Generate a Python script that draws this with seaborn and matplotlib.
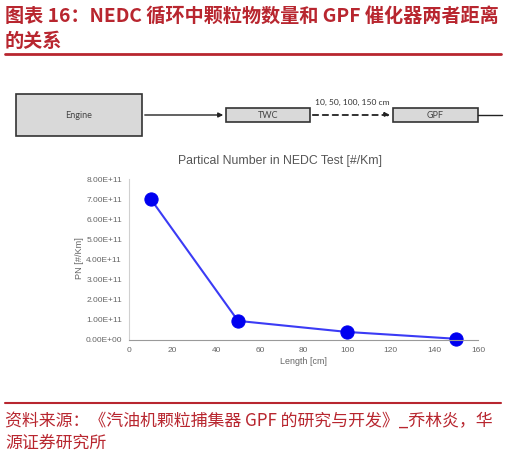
import matplotlib
matplotlib.use("Agg")
import matplotlib.pyplot as plt
import matplotlib.ticker as mticker
from matplotlib.patches import Rectangle
import pandas as pd
import seaborn as sns

# data
length_cm = [10, 50, 100, 150]
pn_per_km = [7.0e11, 0.95e11, 0.4e11, 0.06e11]
x_ticks = [0, 20, 40, 60, 80, 100, 120, 140, 160]
y_ticks = [0, 1e11, 2e11, 3e11, 4e11, 5e11, 6e11, 7e11, 8e11]
distance_label = "10, 50, 100, 150 cm"

title_lines = ["图表 16：NEDC 循环中颗粒物数量和 GPF 催化器两者距离", "的关系"]
source_lines = ["资料来源：《汽油机颗粒捕集器 GPF 的研究与开发》_乔林炎，华", "源证券研究所"]

RED = "#B8262F"
W, H = 506, 459

sns.set_theme(style="white")
plt.rcParams["font.family"] = ["Noto Sans CJK SC", "DejaVu Sans"]

fig = plt.figure(figsize=(W / 100, H / 100), dpi=100)

# overlay in pixel coords for header, diagram and footer
bg = fig.add_axes([0, 0, 1, 1])
bg.set_xlim(0, W)
bg.set_ylim(H, 0)
bg.axis("off")

bg.text(5, 16, title_lines[0], color=RED, fontsize=13.8, fontweight="bold", va="center", ha="left")
bg.text(5, 41, title_lines[1], color=RED, fontsize=13.8, fontweight="bold", va="center", ha="left")
bg.plot([5, 501], [53.5, 53.5], color=RED, lw=2)

# flow diagram: Engine -> TWC - - -> GPF ->
box_kw = dict(facecolor="#D9D9D9", edgecolor="#333333", lw=1.2)
bg.add_patch(Rectangle((16, 94), 126, 42, **box_kw))
bg.add_patch(Rectangle((226, 108), 84, 14, **box_kw))
bg.add_patch(Rectangle((393, 108), 85, 14, **box_kw))
diag_font = ["Lato", "DejaVu Sans"]
bg.text(79, 115, "Engine", fontsize=6.5, color="#444444", ha="center", va="center", family=diag_font)
bg.text(268, 115.5, "TWC", fontsize=6.5, color="#444444", ha="center", va="center", family=diag_font)
bg.text(435.5, 115.5, "GPF", fontsize=6.5, color="#444444", ha="center", va="center", family=diag_font)
bg.text(352, 102, distance_label, fontsize=6.1, color="#333333", ha="center", va="center", family=diag_font)
bg.annotate("", xy=(226, 115), xytext=(142, 115),
            arrowprops=dict(arrowstyle="-|>", color="#222222", lw=1, mutation_scale=7))
bg.annotate("", xy=(393, 115), xytext=(310, 115),
            arrowprops=dict(arrowstyle="-|>", color="#222222", lw=1.3, ls=(0, (3, 2.5)), mutation_scale=7))
bg.plot([478, 502], [115, 115], color="#222222", lw=1)

# footer
bg.plot([5, 501], [403, 403], color=RED, lw=1.5)
bg.text(5, 421, source_lines[0], color=RED, fontsize=12.2, va="center", ha="left")
bg.text(5, 443, source_lines[1], color=RED, fontsize=12.2, va="center", ha="left")

# line chart
ax = fig.add_axes([129 / W, 1 - 340 / H, (478 - 129) / W, (340 - 179) / H])
df = pd.DataFrame({"length": length_cm, "pn": pn_per_km})
sns.lineplot(data=df, x="length", y="pn", ax=ax, color="#3B3BF5", lw=1.5,
             marker="o", markersize=9.5, markerfacecolor="#0000F0", markeredgecolor="#0000F0")
ax.set_xlim(0, 160)
ax.set_ylim(0, 8e11)
ax.set_xticks(x_ticks)
ax.set_yticks(y_ticks)
ax.yaxis.set_major_formatter(mticker.FuncFormatter(lambda v, p: f"{v:.2E}"))
ax.tick_params(axis="both", length=0, labelsize=6.0, labelcolor="#666666", pad=5)
for lab in ax.get_xticklabels() + ax.get_yticklabels():
    lab.set_family(["Liberation Sans", "DejaVu Sans"])
ax.set_xlabel("")
ax.set_ylabel("")
for s in ["top", "right"]:
    ax.spines[s].set_visible(False)
ax.spines["left"].set_color("#D0D0D0")
ax.spines["bottom"].set_color("#9A9A9A")
ax.spines["left"].set_linewidth(0.8)
ax.spines["bottom"].set_linewidth(0.8)
for line in ax.lines:
    line.set_clip_on(False)

chart_font = ["Liberation Sans", "DejaVu Sans"]
bg.text(280, 161, "Partical Number in NEDC Test [#/Km]", fontsize=8.8, color="#555555",
        ha="center", va="center", family=chart_font)
bg.text(304, 362, "Length [cm]", fontsize=6.4, color="#666666", ha="center", va="center", family=chart_font)
bg.text(80, 258, "PN [#/Km]", fontsize=6.6, color="#666666", ha="center", va="center",
        rotation=90, family=chart_font)

fig.savefig("out.png", dpi=100)
